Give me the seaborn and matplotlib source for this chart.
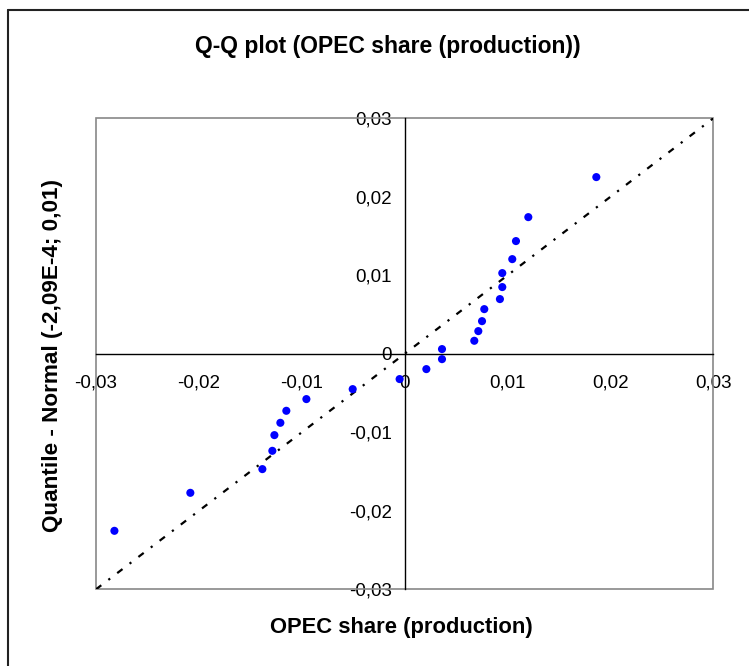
import matplotlib
matplotlib.use("Agg")
import matplotlib.pyplot as plt
import seaborn as sns
import pandas as pd
from matplotlib.patches import Rectangle
from matplotlib.lines import Line2D

# Data: sample values (x) and normal quantiles (y)
sample = [-0.02821, -0.02083, -0.01383, -0.01286, -0.01266, -0.01208, -0.01150,
          -0.00955, -0.00505, -0.00049, 0.00211, 0.00363, 0.00363, 0.00677,
          0.00716, 0.00752, 0.00774, 0.00926, 0.00949, 0.00949, 0.01046,
          0.01082, 0.01202, 0.01863]
quantile = [-0.02255, -0.01771, -0.01469, -0.01236, -0.01036, -0.00879, -0.00726,
            -0.00577, -0.00450, -0.00322, -0.00195, -0.00068, 0.00060, 0.00166,
            0.00289, 0.00416, 0.00569, 0.00697, 0.00850, 0.01028, 0.01206,
            0.01436, 0.01741, 0.02251]
ref_line = [-0.03, 0.03]
tick_vals = [-0.03, -0.02, -0.01, 0, 0.01, 0.02, 0.03]
tick_labels = ["-0,03", "-0,02", "-0,01", "0", "0,01", "0,02", "0,03"]
title = "Q-Q plot (OPEC share (production))"
xlabel = "OPEC share (production)"
ylabel = "Quantile - Normal (-2,09E-4; 0,01)"

sns.set_style("white")
plt.rcParams["font.family"] = ["Liberation Sans", "DejaVu Sans"]
plt.rcParams["text.color"] = "black"

W, H = 749, 666
fig = plt.figure(figsize=(W / 100, H / 100), dpi=100)
ax = fig.add_axes([96 / W, 1 - 589.3 / H, (713.3 - 96) / W, (589.3 - 118.3) / H])

df = pd.DataFrame({"x": sample, "y": quantile})
line_df = pd.DataFrame({"x": ref_line, "y": ref_line})

sns.lineplot(data=line_df, x="x", y="y", ax=ax, color="black", lw=1.6,
             linestyle=(0, (3, 4, 1, 4)), zorder=2)
sns.scatterplot(data=df, x="x", y="y", ax=ax, color="#0000FF", s=34,
                edgecolor="none", zorder=3)

ax.set_xlim(-0.03, 0.03)
ax.set_ylim(-0.03, 0.03)
ax.set_xticks(tick_vals)
ax.set_xticklabels(tick_labels)
ax.set_yticks(tick_vals)
ax.set_yticklabels(tick_labels)
ax.set_xlabel("")
ax.set_ylabel("")

for side in ["top", "right"]:
    ax.spines[side].set_visible(False)
for side in ["left", "bottom"]:
    ax.spines[side].set_position("zero")
    ax.spines[side].set_color("black")
    ax.spines[side].set_linewidth(1.0)
    ax.spines[side].set_visible(True)

ax.add_patch(Rectangle((0, 0), 1, 1, transform=ax.transAxes, fill=False,
                       edgecolor="#888888", lw=1.2, clip_on=False, zorder=1))

ax.tick_params(axis="both", direction="inout", length=8.5, width=1.0,
               colors="black", labelsize=13.5)
ax.tick_params(axis="x", pad=11)
ax.tick_params(axis="y", pad=5)
for t in ax.get_xticklabels() + ax.get_yticklabels():
    t.set_color("black")

fig.text(388 / W, 1 - 47 / H, title, ha="center", va="center",
         fontsize=16.5, fontweight="bold", color="black")
fig.text(401 / W, 1 - 628 / H, xlabel, ha="center", va="center",
         fontsize=15.8, fontweight="bold", color="black")
fig.text(53 / W, 1 - 356 / H, ylabel, ha="center", va="center",
         fontsize=16.2, fontweight="bold", rotation=90, color="black")

# chart-area border (left and top edges visible)
fig.add_artist(Line2D([8 / W, 8 / W], [0, 1 - 10 / H], transform=fig.transFigure,
                      color="#222222", lw=1.5))
fig.add_artist(Line2D([8 / W, 1], [1 - 10 / H, 1 - 10 / H], transform=fig.transFigure,
                      color="#222222", lw=1.5))

fig.savefig("out.png", dpi=100)
